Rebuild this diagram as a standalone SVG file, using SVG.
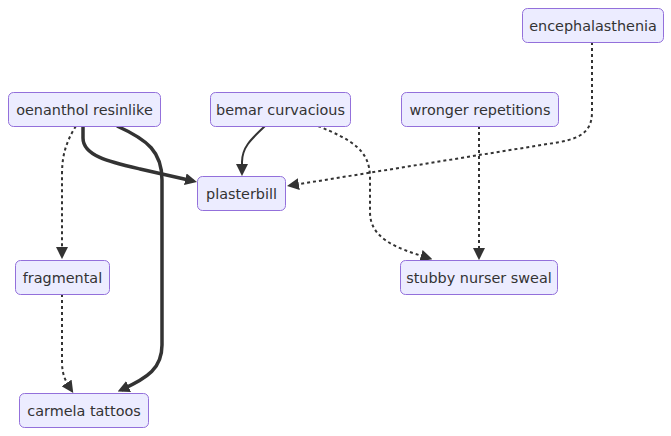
<svg xmlns="http://www.w3.org/2000/svg" width="671" height="436" viewBox="0 0 671 436">
<style>
.node rect{fill:#ECECFF;stroke:#9370DB;stroke-width:1}
.node text{font-family:"DejaVu Sans",sans-serif;font-size:14.4px;fill:#333333;text-anchor:middle;dominant-baseline:central}
.edge{fill:none;stroke:#333333}
.normal{stroke-width:2}
.thick{stroke-width:3.5}
.dotted{stroke-width:2;stroke-dasharray:3 3}
</style>
<defs>
<marker id="arrow" viewBox="0 0 10 10" refX="6.6" refY="5" markerWidth="12" markerHeight="12" markerUnits="userSpaceOnUse" orient="auto">
<path d="M0,0 L10,5 L0,10 z" fill="#333333"/>
</marker>
</defs>
<rect width="671" height="436" fill="#ffffff"/>
<g id="edges">
<path class="edge thick" marker-end="url(#arrow)" d="M83,126 L83,138 C83,156 110,162 140,169 L193,181"/>
<path class="edge thick" marker-end="url(#arrow)" d="M117,126 C148,140 162,152 162,180 L162,345 C162,368 148,378 121.4,389.8"/>
<path class="edge dotted" marker-end="url(#arrow)" d="M76,126 C66,142 62,155 62,175 L62,255"/>
<path class="edge dotted" marker-end="url(#arrow)" d="M62,294 L62,362 C62,375 66,382 71,389.5"/>
<path class="edge normal" marker-end="url(#arrow)" d="M265,126 C250,140 242,148 242,162 L242,172"/>
<path class="edge dotted" marker-end="url(#arrow)" d="M318,126 C352,140 370,150 370,178 L370,212 C370,238 395,248 428.5,258"/>
<path class="edge dotted" marker-end="url(#arrow)" d="M479,126 L479,256"/>
<path class="edge dotted" marker-end="url(#arrow)" d="M592,42 L592,112 C592,132 580,138 560,142 L291,185.4"/>
</g>
<g id="n-encephalasthenia" class="node"><rect x="522.5" y="8.5" width="141" height="34" rx="5"/><text x="593" y="25.5">encephalasthenia</text></g>
<g id="n-oenanthol" class="node"><rect x="8.5" y="92.5" width="152" height="34" rx="5"/><text x="84.5" y="109.5">oenanthol resinlike</text></g>
<g id="n-bemar" class="node"><rect x="210.5" y="92.5" width="140" height="34" rx="5"/><text x="280.5" y="109.5">bemar curvacious</text></g>
<g id="n-wronger" class="node"><rect x="401.5" y="92.5" width="157" height="34" rx="5"/><text x="480" y="109.5">wronger repetitions</text></g>
<g id="n-plasterbill" class="node"><rect x="197.5" y="176.5" width="88" height="34" rx="5"/><text x="241.5" y="193.5">plasterbill</text></g>
<g id="n-fragmental" class="node"><rect x="15.5" y="260.5" width="94" height="34" rx="5"/><text x="62.5" y="277.5">fragmental</text></g>
<g id="n-stubby" class="node"><rect x="400.5" y="260.5" width="157" height="34" rx="5"/><text x="479" y="277.5">stubby nurser sweal</text></g>
<g id="n-carmela" class="node"><rect x="19.5" y="393.5" width="129" height="34" rx="5"/><text x="84" y="410.5">carmela tattoos</text></g>
</svg>
